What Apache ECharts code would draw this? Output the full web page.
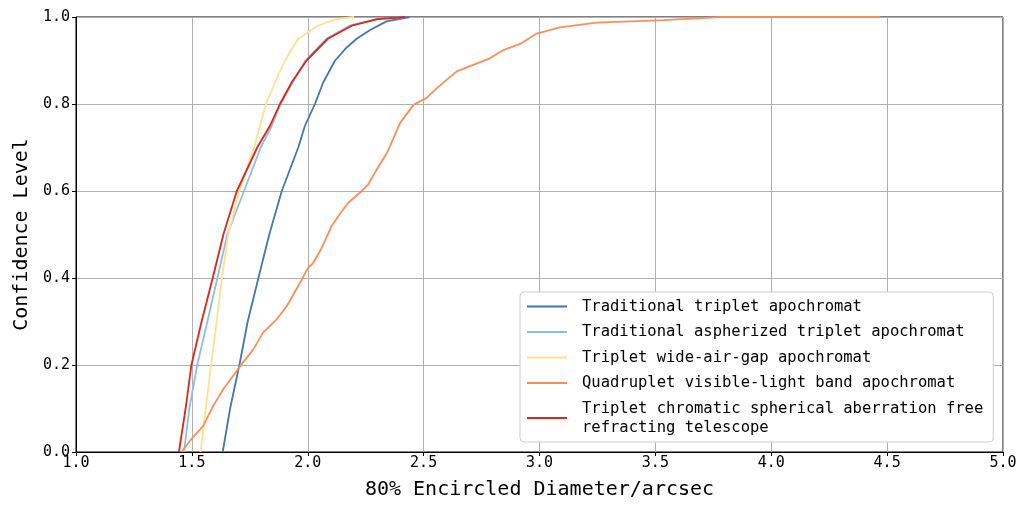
<!DOCTYPE html>
<html>
<head>
<meta charset="utf-8">
<script src="https://cdn.jsdelivr.net/npm/echarts@6/dist/echarts.min.js"></script>
<style>
  html, body { margin: 0; padding: 0; background: #fff; }
  #chart { width: 1020px; height: 505px; }
</style>
</head>
<body>
<div id="chart"></div>
<script>
// legend names, in legend order
var seriesNames = [
  'Traditional triplet apochromat',
  'Traditional aspherized triplet apochromat',
  'Triplet wide-air-gap apochromat',
  'Quadruplet visible-light band apochromat',
  'Triplet chromatic spherical aberration free refracting telescope'
];

// [80% encircled diameter (arcsec), confidence level]
var tripletData = [
  [1.633, 0], [1.665, 0.1], [1.705, 0.2], [1.741, 0.3], [1.787, 0.4], [1.834, 0.5],
  [1.888, 0.6], [1.959, 0.7], [1.988, 0.75], [2.031, 0.8], [2.067, 0.85], [2.118, 0.9],
  [2.168, 0.93], [2.211, 0.95], [2.269, 0.97], [2.34, 0.99], [2.44, 1.0]
];
var asphericData = [
  [1.466, 0], [1.489, 0.1], [1.523, 0.2], [1.567, 0.3], [1.61, 0.4], [1.653, 0.5],
  [1.725, 0.6], [1.797, 0.7], [1.845, 0.75], [1.883, 0.8], [1.935, 0.85], [1.99, 0.9],
  [2.08, 0.95], [2.18, 0.98], [2.30, 0.995], [2.42, 1.0]
];
var wideGapData = [
  [1.538, 0], [1.560, 0.1], [1.583, 0.2], [1.607, 0.3], [1.629, 0.4], [1.657, 0.5],
  [1.705, 0.6], [1.768, 0.7], [1.794, 0.75], [1.820, 0.8], [1.859, 0.85], [1.902, 0.9],
  [1.959, 0.95], [2.044, 0.98], [2.125, 0.995], [2.20, 1.0]
];
var quadrupletData = [
  [1.456, 0], [1.492, 0.026], [1.549, 0.06], [1.592, 0.106], [1.636, 0.145], [1.693, 0.186],
  [1.715, 0.202], [1.765, 0.236], [1.808, 0.275], [1.866, 0.305], [1.909, 0.335], [1.938, 0.362],
  [1.967, 0.389], [2.0, 0.422], [2.024, 0.435], [2.06, 0.469], [2.103, 0.519], [2.146, 0.553],
  [2.175, 0.573], [2.225, 0.596], [2.261, 0.615], [2.297, 0.649], [2.341, 0.687], [2.355, 0.703],
  [2.398, 0.756], [2.456, 0.798], [2.513, 0.814], [2.556, 0.836], [2.600, 0.856], [2.643, 0.875],
  [2.714, 0.890], [2.786, 0.905], [2.844, 0.924], [2.916, 0.938], [2.988, 0.962], [3.088, 0.976],
  [3.247, 0.987], [3.534, 0.993], [3.721, 0.998], [3.78, 1.0], [4.47, 1.0]
];
var chromaticFreeData = [
  [1.444, 0], [1.473, 0.1], [1.498, 0.2], [1.542, 0.3], [1.590, 0.4], [1.636, 0.5],
  [1.694, 0.6], [1.782, 0.7], [1.837, 0.75], [1.880, 0.8], [1.931, 0.85], [1.995, 0.9],
  [2.087, 0.95], [2.19, 0.98], [2.30, 0.995], [2.42, 1.0]
];

var seriesData = [tripletData, asphericData, wideGapData, quadrupletData, chromaticFreeData];
var seriesColors = ['#4575b4', '#91bfdb', '#fee090', '#fc8d59', '#e0241b'];

var font = 'DejaVu Sans Mono';
var chart = echarts.init(document.getElementById('chart'));

var series = seriesNames.map(function (name, i) {
  return {
    name: name,
    type: 'line',
    data: seriesData[i],
    showSymbol: false,
    symbol: 'none',
    color: seriesColors[i],
    lineStyle: { color: seriesColors[i], width: 1.8 },
    animation: false
  };
});

chart.setOption({
  animation: false,
  grid: {
    left: 76, right: 17, top: 17, bottom: 52,
    show: true, borderColor: '#000', borderWidth: 1
  },
  legend: {
    orient: 'vertical',
    left: 520,
    top: 292,
    data: seriesNames,
    icon: 'path://M0,0H40V2H0Z',
    itemWidth: 40,
    itemHeight: 2,
    itemGap: 6.5,
    padding: [5, 10, 5, 7],
    backgroundColor: '#fff',
    borderColor: '#cccccc',
    borderWidth: 1,
    borderRadius: 4,
    textStyle: {
      fontFamily: font, fontSize: 15.5, color: '#000', lineHeight: 19,
      padding: [0, 0, 0, 10]
    },
    formatter: function (name) {
      return name === seriesNames[4]
        ? 'Triplet chromatic spherical aberration free\nrefracting telescope'
        : name;
    }
  },
  xAxis: {
    type: 'value',
    min: 1, max: 5, interval: 0.5,
    name: '80% Encircled Diameter/arcsec',
    nameLocation: 'middle',
    nameGap: 28,
    nameTextStyle: { fontFamily: font, fontSize: 20, color: '#000' },
    axisLine: { lineStyle: { color: '#000', width: 1 } },
    axisTick: { show: true, length: 4, lineStyle: { color: '#000' } },
    axisLabel: {
      fontFamily: font, fontSize: 15, color: '#000', margin: 4,
      formatter: function (v) { return v.toFixed(1); }
    },
    splitLine: { show: true, lineStyle: { color: '#b0b0b0', width: 1 } }
  },
  yAxis: {
    type: 'value',
    min: 0, max: 1, interval: 0.2,
    name: 'Confidence Level',
    nameLocation: 'middle',
    nameGap: 42,
    nameTextStyle: { fontFamily: font, fontSize: 20, color: '#000' },
    axisLine: { show: true, lineStyle: { color: '#000', width: 1 } },
    axisTick: { show: true, length: 4, lineStyle: { color: '#000' } },
    axisLabel: {
      fontFamily: font, fontSize: 15, color: '#000', margin: 6,
      formatter: function (v) { return v.toFixed(1); }
    },
    splitLine: { show: true, lineStyle: { color: '#b0b0b0', width: 1 } }
  },
  series: series
});
</script>
</body>
</html>
